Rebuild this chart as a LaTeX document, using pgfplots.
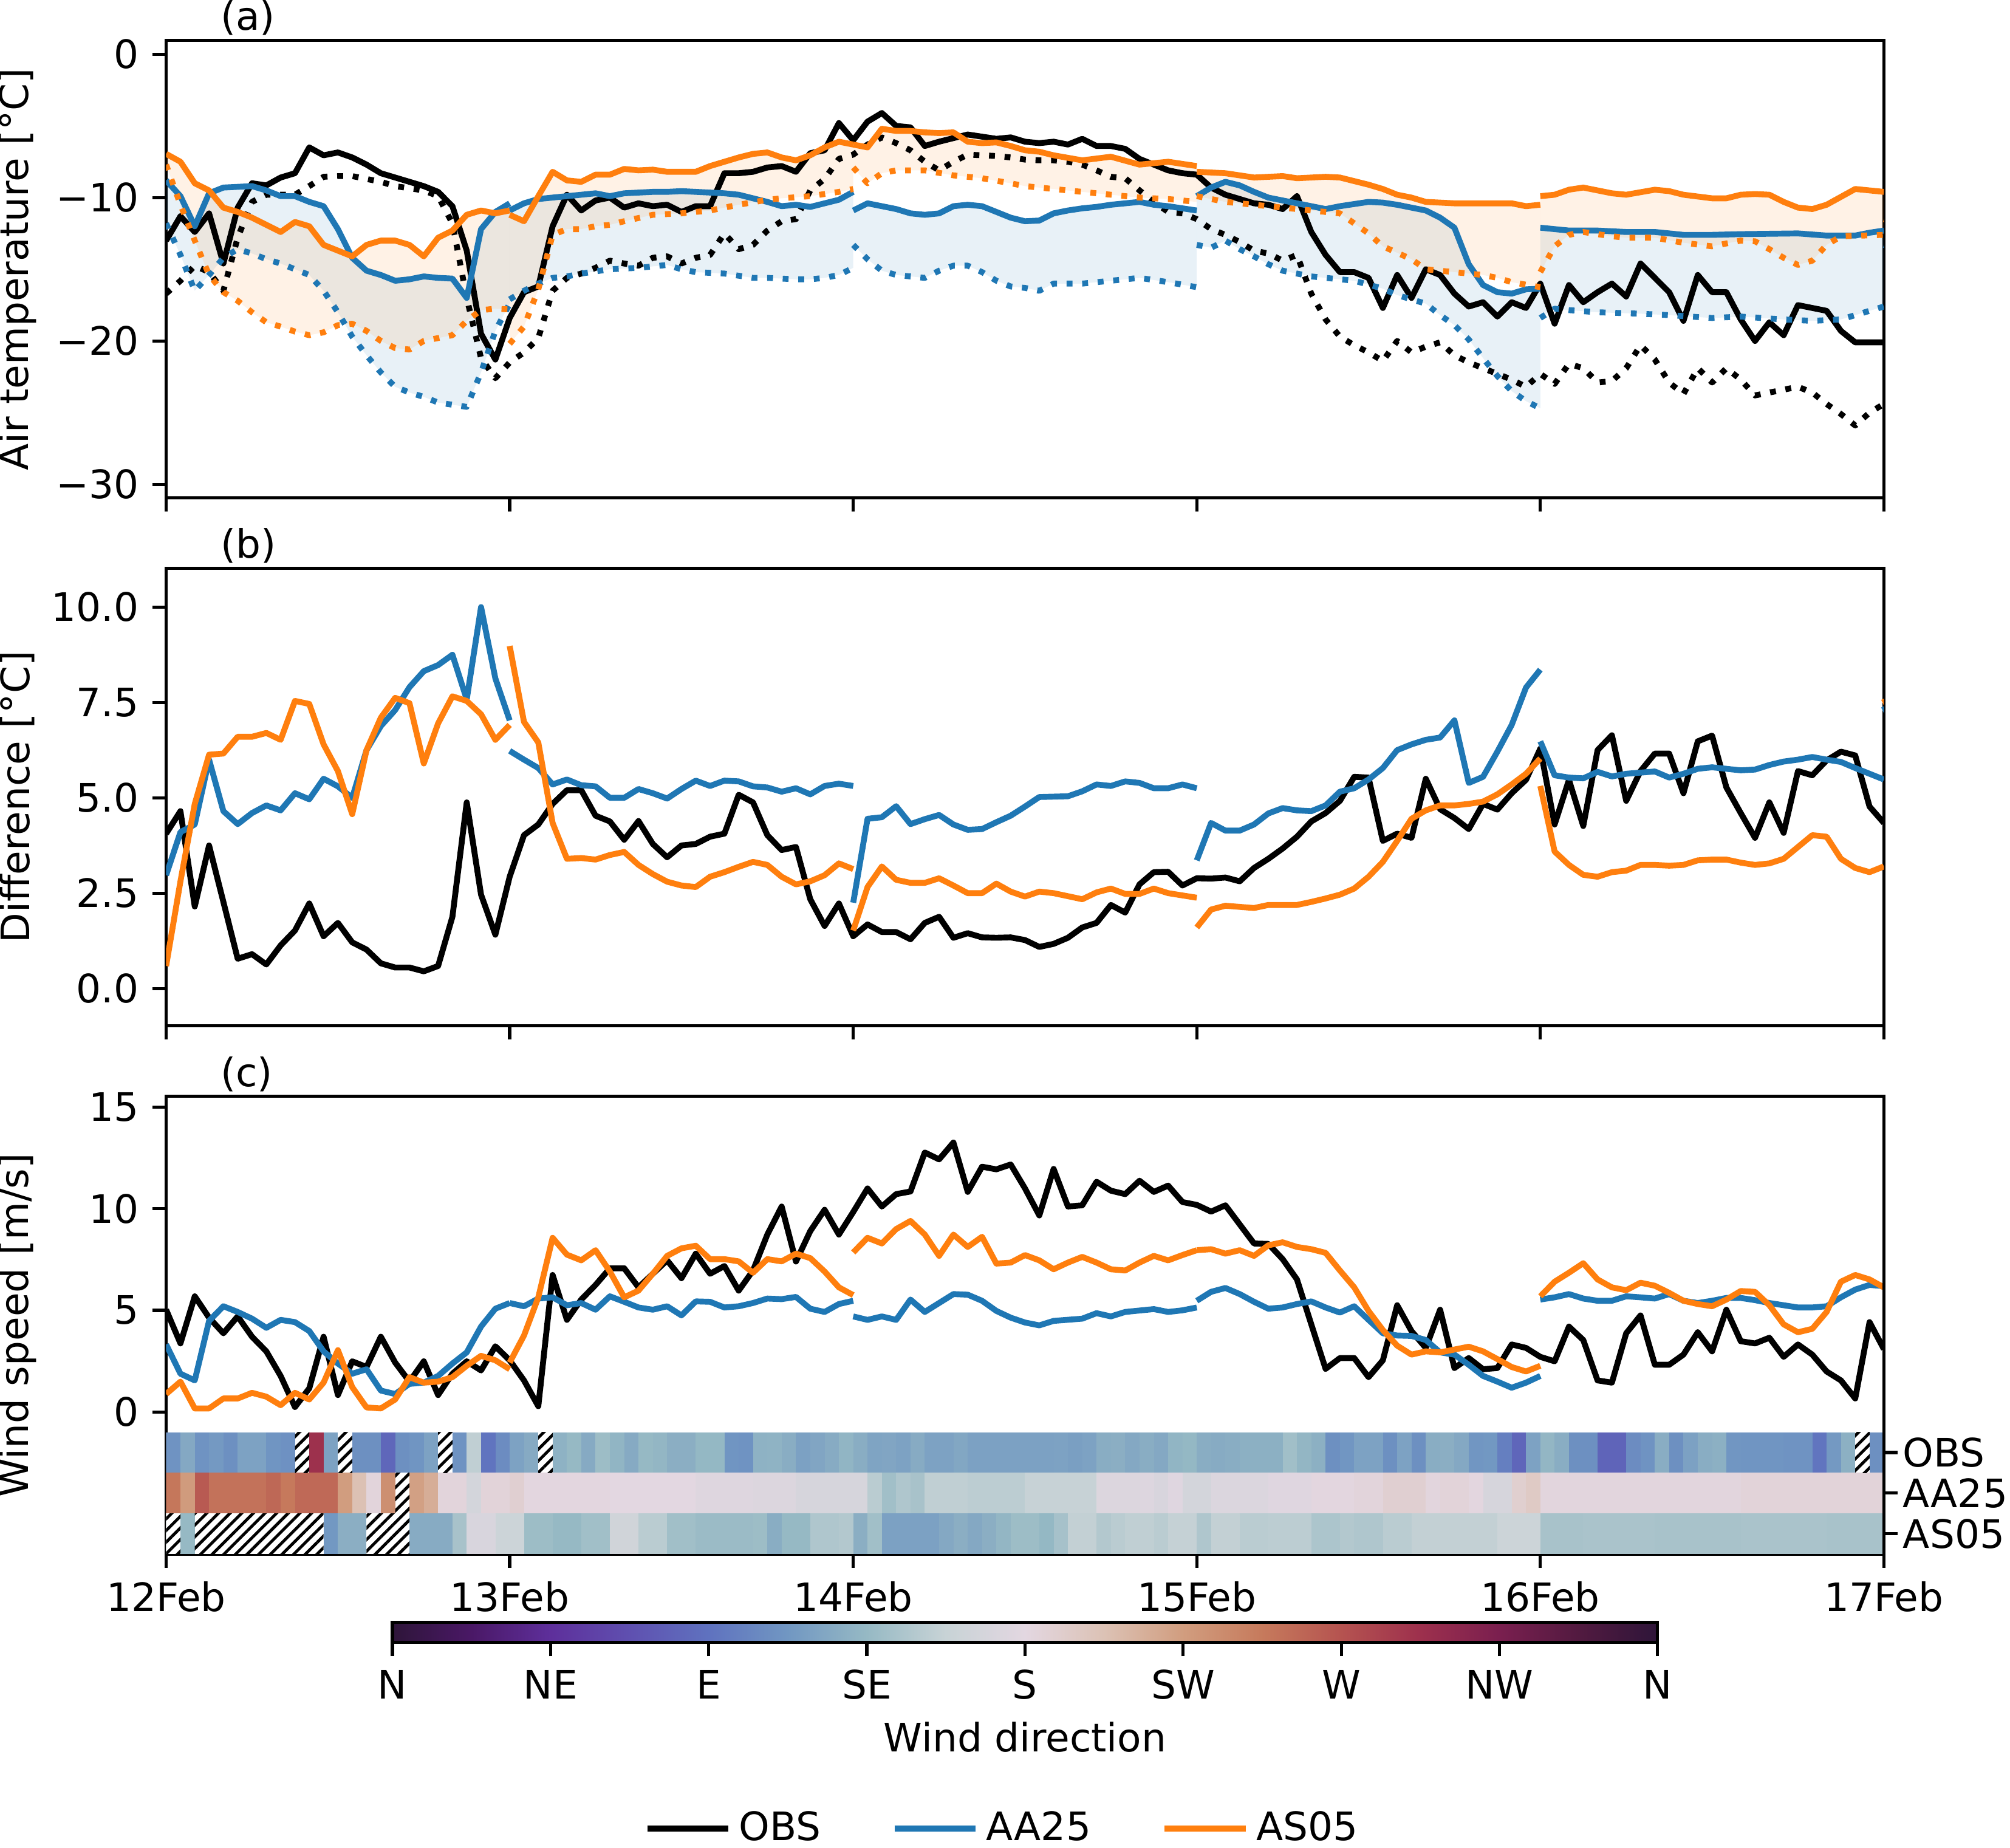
\documentclass[border=0pt]{standalone}
\usepackage{fontspec}
\setmainfont{DejaVu Sans}
\usepackage{pgfplots}
\pgfplotsset{compat=1.18}
\usepgfplotslibrary{fillbetween}
\usetikzlibrary{patterns.meta}
\definecolor{tabblue}{RGB}{31,119,180}
\definecolor{taborange}{RGB}{255,127,14}
\pgfplotsset{
  panel/.style={scale only axis, width=438.4pt, height=116.8pt, xmin=0, xmax=120,
    xtick={0,24,48,72,96,120}, tick align=outside, xtick pos=left, ytick pos=left,
    major tick length=3.5pt, axis line style={line width=0.8pt},
    every tick/.style={black, line width=0.8pt},
    ylabel style={at={(axis description cs:-0.0866,0.5)}, anchor=center},
    every axis title shift=0pt,
    title style={at={(axis description cs:0.0313,1)}, anchor=base west, yshift=2.6pt, inner sep=0pt},
  },
  obs/.style={black, line width=1.5pt, line join=round},
  aa/.style={tabblue, line width=1.5pt, line join=round},
  as/.style={taborange, line width=1.5pt, line join=round},
  dots/.style={dash pattern=on 1.5pt off 2.475pt},
  fa/.style={fill=tabblue, fill opacity=0.1, draw=none},
  fo/.style={fill=taborange, fill opacity=0.1, draw=none},
  hatch/.style={draw=none, fill=white, forget plot, postaction={pattern={Lines[angle=45,distance=2.1pt,line width=0.75pt]}}},
  strip/.style={mesh, point meta=explicit, line width=10.37pt, line cap=butt, forget plot},
  colormap={twil}{rgb255=(46,21,57) rgb255=(74,24,102) rgb255=(94,47,155) rgb255=(95,80,176) rgb255=(95,114,191) rgb255=(113,151,194) rgb255=(150,185,196) rgb255=(200,211,214) rgb255=(227,215,225) rgb255=(220,194,181) rgb255=(209,157,127) rgb255=(198,122,92) rgb255=(181,83,80) rgb255=(157,48,77) rgb255=(122,31,79) rgb255=(82,26,64) rgb255=(46,21,57)},
}
\begin{document}
\begin{tikzpicture}
% ---------------- (a) ----------------
\begin{axis}[panel, at={(42.4pt,344.5pt)}, anchor=south west, set layers,
  ymin=-30.96, ymax=0.97, ytick={-30,-20,-10,0}, yticklabels={−30,−20,−10,0},
  xticklabels=\empty, ylabel={Air temperature [°C]}, title={(a)}]
\addplot[obs] coordinates {(0,-13.0)(1,-11.3)(2,-12.4)(3,-11.1)(4,-14.6)(5,-10.7)(6,-9.0)(7,-9.15)(8,-8.6)(9,-8.3)(10,-6.5)(11,-7.05)(12,-6.85)(13,-7.2)(14,-7.7)(15,-8.3)(16,-8.6)(17,-8.9)(18,-9.2)(19,-9.6)(20,-10.6)(21,-13.7)(22,-19.5)(23,-21.3)(24,-18.4)(25,-16.6)(26,-16.2)(27,-12.0)(28,-9.8)(29,-10.9)(30,-10.2)(31,-10.0)(32,-10.7)(33,-10.4)(34,-10.6)(35,-10.5)(36,-11.0)(37,-10.6)(38,-10.6)(39,-8.3)(40,-8.3)(41,-8.2)(42,-7.9)(43,-7.8)(44,-8.2)(45,-6.9)(46,-6.7)(47,-4.8)(48,-6.0)(49,-4.7)(50,-4.1)(51,-5.0)(52,-5.1)(53,-6.4)(54,-6.1)(55,-5.85)(56,-5.6)(57,-5.75)(58,-5.9)(59,-5.8)(60,-6.1)(61,-6.2)(62,-6.1)(63,-6.3)(64,-5.9)(65,-6.4)(66,-6.4)(67,-6.6)(68,-7.3)(69,-7.7)(70,-8.1)(71,-8.3)(72,-8.4)(73,-9.3)(74,-9.8)(75,-10.1)(76,-10.4)(77,-10.5)(78,-10.8)(79,-9.9)(80,-12.4)(81,-14.0)(82,-15.2)(83,-15.2)(84,-15.6)(85,-17.7)(86,-15.4)(87,-17.0)(88,-15.0)(89,-15.4)(90,-16.7)(91,-17.6)(92,-17.3)(93,-18.3)(94,-17.3)(95,-17.7)(96,-16.0)(97,-18.8)(98,-16.1)(99,-17.3)(100,-16.6)(101,-16.0)(102,-16.9)(103,-14.6)(104,-15.6)(105,-16.6)(106,-18.6)(107,-15.4)(108,-16.6)(109,-16.6)(110,-18.5)(111,-20.0)(112,-18.7)(113,-19.6)(114,-17.5)(115,-17.7)(116,-17.9)(117,-19.3)(118,-20.1)(119,-20.1)(120,-20.1)};
\addplot[obs,dots] coordinates {(0,-16.7)(1,-15.8)(2,-14.75)(3,-15.2)(4,-16.5)(5,-12.8)(6,-10.3)(7,-9.8)(8,-9.8)(9,-9.8)(10,-9.2)(11,-8.55)(12,-8.5)(13,-8.5)(14,-8.7)(15,-8.9)(16,-9.2)(17,-9.35)(18,-9.5)(19,-9.9)(20,-11.8)(21,-17.0)(22,-21.2)(23,-22.6)(24,-21.5)(25,-20.8)(26,-19.8)(27,-16.5)(28,-15.6)(29,-15.3)(30,-14.9)(31,-14.4)(32,-14.6)(33,-14.75)(34,-14.2)(35,-14.1)(36,-14.6)(37,-14.2)(38,-14.0)(39,-12.5)(40,-13.6)(41,-13.3)(42,-12.3)(43,-11.65)(44,-11.5)(45,-9.5)(46,-8.7)(47,-7.3)(48,-7.0)(49,-6.3)(50,-5.8)(51,-6.2)(52,-6.7)(53,-7.5)(54,-8.1)(55,-7.5)(56,-7.0)(57,-7.05)(58,-7.1)(59,-7.2)(60,-7.35)(61,-7.4)(62,-7.4)(63,-7.5)(64,-7.7)(65,-8.1)(66,-8.55)(67,-8.65)(68,-9.5)(69,-10.3)(70,-11.0)(71,-11.1)(72,-11.5)(73,-12.2)(74,-12.6)(75,-13.1)(76,-13.7)(77,-13.9)(78,-14.4)(79,-14.0)(80,-16.7)(81,-18.5)(82,-19.7)(83,-20.3)(84,-20.8)(85,-21.4)(86,-20.0)(87,-20.8)(88,-20.4)(89,-20.1)(90,-21.0)(91,-21.5)(92,-21.9)(93,-22.3)(94,-22.7)(95,-23.2)(96,-22.3)(97,-23.0)(98,-21.6)(99,-21.9)(100,-22.9)(101,-22.8)(102,-21.9)(103,-20.3)(104,-21.3)(105,-22.9)(106,-23.7)(107,-21.9)(108,-22.9)(109,-21.9)(110,-22.7)(111,-23.8)(112,-23.6)(113,-23.4)(114,-23.2)(115,-23.6)(116,-24.4)(117,-25.1)(118,-25.9)(119,-25.0)(120,-24.4)};
% AA25 segments
\addplot[aa, name path=a1] coordinates {(0,-8.8)(1,-9.9)(2,-12.0)(3,-9.7)(4,-9.3)(5,-9.25)(6,-9.2)(7,-9.5)(8,-9.9)(9,-9.9)(10,-10.3)(11,-10.6)(12,-12.2)(13,-14.2)(14,-15.1)(15,-15.4)(16,-15.8)(17,-15.7)(18,-15.5)(19,-15.6)(20,-15.65)(21,-17.0)(22,-12.2)(23,-11.0)(24,-10.4)};
\addplot[aa, dots, name path=a1d] coordinates {(0,-11.8)(1,-14.0)(2,-16.5)(3,-15.4)(4,-14.2)(5,-13.6)(6,-13.9)(7,-14.3)(8,-14.6)(9,-15.0)(10,-15.4)(11,-16.5)(12,-18.0)(13,-19.7)(14,-21.0)(15,-22.2)(16,-23.2)(17,-23.6)(18,-23.9)(19,-24.3)(20,-24.45)(21,-24.6)(22,-22.2)(23,-19.3)(24,-17.4)};
\addplot[fa] fill between[of=a1 and a1d];
\addplot[aa, name path=a2] coordinates {(24,-10.9)(25,-10.4)(26,-10.1)(27,-10.0)(28,-9.9)(29,-9.8)(30,-9.7)(31,-9.9)(32,-9.7)(33,-9.65)(34,-9.6)(35,-9.6)(36,-9.55)(37,-9.6)(38,-9.65)(39,-9.7)(40,-9.8)(41,-10.05)(42,-10.3)(43,-10.6)(44,-10.5)(45,-10.65)(46,-10.4)(47,-10.15)(48,-9.6)};
\addplot[aa, dots, name path=a2d] coordinates {(24,-17.1)(25,-16.5)(26,-16.0)(27,-15.6)(28,-15.5)(29,-15.3)(30,-15.15)(31,-15.0)(32,-14.95)(33,-14.9)(34,-14.8)(35,-14.7)(36,-15.0)(37,-15.2)(38,-15.25)(39,-15.3)(40,-15.45)(41,-15.6)(42,-15.6)(43,-15.65)(44,-15.7)(45,-15.7)(46,-15.6)(47,-15.4)(48,-14.9)};
\addplot[fa] fill between[of=a2 and a2d];
\addplot[aa, name path=a3] coordinates {(48,-10.9)(49,-10.4)(50,-10.6)(51,-10.8)(52,-11.1)(53,-11.2)(54,-11.1)(55,-10.6)(56,-10.5)(57,-10.6)(58,-11.0)(59,-11.4)(60,-11.65)(61,-11.6)(62,-11.1)(63,-10.9)(64,-10.75)(65,-10.65)(66,-10.5)(67,-10.4)(68,-10.3)(69,-10.5)(70,-10.6)(71,-10.75)(72,-10.9)};
\addplot[aa, dots, name path=a3d] coordinates {(48,-13.3)(49,-14.3)(50,-15.1)(51,-15.4)(52,-15.5)(53,-15.6)(54,-15.1)(55,-14.75)(56,-14.75)(57,-15.2)(58,-15.8)(59,-16.2)(60,-16.3)(61,-16.5)(62,-16.0)(64,-16.0)(66,-15.8)(68,-15.6)(70,-15.9)(72,-16.25)};
\addplot[fa] fill between[of=a3 and a3d];
\addplot[aa, name path=a4] coordinates {(72,-9.9)(73,-9.3)(74,-8.9)(75,-9.15)(76,-9.6)(77,-10.0)(78,-10.2)(79,-10.4)(80,-10.6)(81,-10.8)(82,-10.6)(83,-10.45)(84,-10.3)(85,-10.35)(86,-10.5)(87,-10.7)(88,-10.9)(89,-11.4)(90,-12.1)(91,-14.65)(92,-16.1)(93,-16.6)(94,-16.7)(95,-16.4)(96,-16.35)};
\addplot[aa, dots, name path=a4d] coordinates {(72,-13.3)(73,-13.5)(74,-13.0)(75,-13.6)(76,-14.1)(77,-14.65)(78,-15.1)(80,-15.5)(82,-15.7)(83,-15.8)(85,-16.35)(86,-16.8)(88,-17.4)(89,-18.2)(90,-18.9)(91,-19.9)(92,-21.2)(93,-22.45)(94,-23.5)(95,-24.2)(96,-24.7)};
\addplot[fa] fill between[of=a4 and a4d];
\addplot[aa, name path=a5] coordinates {(96,-12.1)(98,-12.3)(100,-12.3)(102,-12.4)(104,-12.4)(106,-12.6)(108,-12.6)(110,-12.55)(114,-12.5)(116,-12.65)(118,-12.65)(119,-12.45)(120,-12.3)};
\addplot[aa, dots, name path=a5d] coordinates {(96,-18.4)(97,-17.75)(98,-17.85)(100,-18.0)(103,-18.1)(105,-18.2)(108,-18.4)(110,-18.3)(113,-18.5)(115,-18.6)(117,-18.5)(118,-18.2)(120,-17.6)};
\addplot[fa] fill between[of=a5 and a5d];
\addplot[aa] coordinates {(120,-13.3)(121,-13.6)};
% AS05 segments
\addplot[as, name path=o1] coordinates {(0,-6.95)(1,-7.5)(2,-9.0)(3,-9.5)(4,-10.7)(5,-11.0)(6,-11.4)(7,-11.9)(8,-12.4)(9,-11.7)(10,-12.0)(11,-13.3)(12,-13.7)(13,-14.1)(14,-13.3)(15,-13.0)(16,-13.0)(17,-13.3)(18,-14.1)(19,-12.8)(20,-12.3)(21,-11.2)(22,-10.9)(23,-11.1)(24,-10.9)};
\addplot[as, dots, name path=o1d] coordinates {(0,-7.7)(1,-10.5)(2,-13.0)(3,-15.4)(4,-16.6)(5,-17.2)(6,-18.0)(7,-18.7)(8,-19.0)(9,-19.35)(10,-19.6)(11,-19.4)(12,-18.9)(13,-18.8)(14,-19.3)(15,-20.0)(16,-20.5)(17,-20.6)(18,-20.0)(19,-19.8)(20,-19.6)(21,-18.6)(22,-17.85)(23,-17.75)(24,-17.8)};
\addplot[fo] fill between[of=o1 and o1d];
\addplot[as, name path=o2] coordinates {(24,-11.2)(25,-11.65)(26,-9.9)(27,-8.2)(28,-8.8)(29,-8.9)(30,-8.4)(31,-8.4)(32,-8.0)(33,-8.1)(34,-8.05)(35,-8.2)(36,-8.2)(37,-8.2)(38,-7.8)(39,-7.5)(40,-7.2)(41,-6.95)(42,-6.85)(43,-7.2)(44,-7.4)(45,-7.05)(46,-6.5)(47,-6.1)(48,-6.3)};
\addplot[as, dots, name path=o2d] coordinates {(24,-20.2)(25,-19.0)(26,-16.4)(27,-12.6)(28,-12.2)(29,-12.2)(30,-12.0)(31,-11.9)(32,-11.65)(34,-11.2)(36,-11.1)(38,-10.9)(40,-10.5)(42,-10.15)(43,-10.05)(45,-9.9)(47,-9.6)(48,-9.4)};
\addplot[fo] fill between[of=o2 and o2d];
\addplot[as, name path=o3] coordinates {(48,-6.3)(49,-6.5)(50,-5.2)(51,-5.35)(52,-5.35)(53,-5.45)(54,-5.5)(55,-5.45)(56,-6.1)(57,-6.2)(58,-6.15)(59,-6.4)(60,-6.7)(61,-6.8)(62,-7.05)(64,-7.4)(66,-7.15)(68,-7.7)(70,-7.5)(72,-7.8)};
\addplot[as, dots, name path=o3d] coordinates {(48,-7.9)(49,-9.0)(50,-8.3)(51,-8.1)(53,-8.1)(55,-8.45)(57,-8.65)(59,-9.0)(60,-9.2)(62,-9.4)(64,-9.6)(66,-9.8)(68,-10.0)(70,-10.1)(72,-10.3)};
\addplot[fo] fill between[of=o3 and o3d];
\addplot[as, name path=o4] coordinates {(72,-8.2)(74,-8.3)(76,-8.6)(78,-8.5)(79,-8.65)(81,-8.55)(82,-8.6)(84,-9.1)(85,-9.4)(86,-9.8)(87,-10.0)(88,-10.3)(90,-10.4)(92,-10.4)(94,-10.4)(95,-10.6)(96,-10.5)};
\addplot[as, dots, name path=o4d] coordinates {(72,-9.9)(74,-10.3)(76,-10.5)(78,-10.7)(80,-10.9)(82,-11.1)(83,-11.8)(84,-12.5)(85,-13.4)(87,-14.3)(88,-15.0)(90,-15.2)(92,-15.4)(93,-15.6)(94,-15.9)(96,-16.25)};
\addplot[fo] fill between[of=o4 and o4d];
\addplot[as, name path=o5] coordinates {(96,-9.9)(97,-9.8)(98,-9.45)(99,-9.3)(101,-9.7)(102,-9.8)(104,-9.45)(105,-9.55)(106,-9.8)(108,-10.05)(109,-10.05)(110,-9.8)(111,-9.75)(112,-9.8)(113,-10.3)(114,-10.7)(115,-10.8)(116,-10.5)(117,-9.95)(118,-9.4)(119,-9.5)(120,-9.6)};
\addplot[as, dots, name path=o5d] coordinates {(96,-15.2)(97,-13.4)(98,-12.6)(99,-12.4)(101,-12.7)(102,-12.8)(104,-12.8)(106,-13.15)(108,-13.4)(110,-13.0)(111,-13.05)(112,-13.6)(113,-14.2)(114,-14.7)(115,-14.4)(116,-13.3)(117,-12.7)(120,-12.6)};
\addplot[fo] fill between[of=o5 and o5d];
\addplot[as] coordinates {(120,-11.5)(121,-11.8)};
\end{axis}
% ---------------- (b) ----------------
\begin{axis}[panel, at={(42.4pt,209.8pt)}, anchor=south west,
  ymin=-0.98, ymax=11.02, ytick={0,2.5,5,7.5,10}, yticklabels={0.0,2.5,5.0,7.5,10.0},
  xticklabels=\empty, ylabel={Difference [°C]}, title={(b)}]
\addplot[obs] coordinates {(0,4.06)(1,4.65)(2,2.15)(3,3.75)(4,2.27)(5,0.78)(6,0.9)(7,0.63)(8,1.13)(9,1.52)(10,2.23)(11,1.37)(12,1.72)(13,1.21)(14,1.02)(15,0.66)(16,0.55)(17,0.55)(18,0.45)(19,0.59)(20,1.88)(21,4.88)(22,2.46)(23,1.41)(24,2.93)(25,4.02)(26,4.3)(27,4.84)(28,5.2)(29,5.2)(30,4.53)(31,4.38)(32,3.9)(33,4.39)(34,3.79)(35,3.44)(36,3.75)(37,3.79)(38,3.98)(39,4.06)(40,5.08)(41,4.88)(42,4.02)(43,3.63)(44,3.71)(45,2.34)(46,1.64)(47,2.23)(48,1.37)(49,1.68)(50,1.48)(51,1.48)(52,1.29)(53,1.72)(54,1.88)(55,1.33)(56,1.45)(57,1.34)(58,1.33)(59,1.34)(60,1.27)(61,1.09)(62,1.17)(63,1.33)(64,1.6)(65,1.72)(66,2.19)(67,1.99)(68,2.73)(69,3.05)(70,3.06)(71,2.7)(72,2.89)(73,2.88)(74,2.91)(75,2.81)(76,3.16)(77,3.4)(78,3.67)(79,3.98)(80,4.38)(81,4.6)(82,4.92)(83,5.55)(84,5.53)(85,3.87)(86,4.06)(87,3.95)(88,5.5)(89,4.7)(90,4.47)(91,4.18)(92,4.84)(93,4.69)(94,5.12)(95,5.47)(96,6.29)(97,4.3)(98,5.47)(99,4.26)(100,6.25)(101,6.64)(102,4.92)(103,5.7)(104,6.16)(105,6.16)(106,5.12)(107,6.48)(108,6.63)(109,5.27)(110,4.6)(111,3.95)(112,4.88)(113,4.08)(114,5.7)(115,5.59)(116,5.98)(117,6.21)(118,6.11)(119,4.77)(120,4.34)};
\addplot[aa] coordinates {(0,2.97)(1,4.1)(2,4.3)(3,6.0)(4,4.65)(5,4.31)(6,4.6)(7,4.8)(8,4.67)(9,5.12)(10,4.96)(11,5.5)(12,5.3)(13,5.0)(14,6.25)(15,6.88)(16,7.3)(17,7.9)(18,8.32)(19,8.48)(20,8.75)(21,7.58)(22,10.0)(23,8.13)(24,7.03)};
\addplot[aa] coordinates {(24,6.23)(25,6.0)(26,5.78)(27,5.35)(28,5.48)(29,5.33)(30,5.3)(31,5.0)(32,5.0)(33,5.23)(34,5.12)(35,4.98)(36,5.23)(37,5.45)(38,5.31)(39,5.45)(40,5.43)(41,5.3)(42,5.27)(43,5.16)(44,5.25)(45,5.09)(46,5.31)(47,5.37)(48,5.31)};
\addplot[aa] coordinates {(48,2.25)(49,4.45)(50,4.49)(51,4.78)(52,4.31)(53,4.44)(54,4.55)(55,4.3)(56,4.16)(57,4.18)(58,4.36)(59,4.53)(60,4.77)(61,5.02)(63,5.04)(64,5.17)(65,5.35)(66,5.31)(67,5.43)(68,5.39)(69,5.25)(70,5.25)(71,5.35)(72,5.25)};
\addplot[aa] coordinates {(72,3.36)(73,4.34)(74,4.14)(75,4.14)(76,4.3)(77,4.59)(78,4.73)(79,4.67)(80,4.65)(81,4.8)(82,5.16)(83,5.25)(84,5.48)(85,5.78)(86,6.25)(87,6.4)(88,6.52)(89,6.58)(90,7.03)(91,5.39)(92,5.55)(93,6.21)(94,6.91)(95,7.89)(96,8.36)};
\addplot[aa] coordinates {(96,6.48)(97,5.59)(98,5.53)(99,5.51)(100,5.68)(101,5.56)(102,5.63)(104,5.69)(105,5.53)(106,5.63)(107,5.76)(108,5.8)(109,5.76)(110,5.72)(111,5.74)(112,5.86)(113,5.95)(114,6.0)(115,6.07)(116,6.0)(117,5.94)(118,5.78)(119,5.63)(120,5.48)};
\addplot[aa] coordinates {(120,7.4)(121,6.6)};
\addplot[as] coordinates {(0,0.59)(1,2.81)(2,4.84)(3,6.13)(4,6.16)(5,6.6)(6,6.6)(7,6.7)(8,6.52)(9,7.54)(10,7.46)(11,6.4)(12,5.7)(13,4.57)(14,6.25)(15,7.1)(16,7.62)(17,7.48)(18,5.9)(19,6.95)(20,7.66)(21,7.54)(22,7.19)(23,6.52)(24,6.91)};
\addplot[as] coordinates {(24,8.98)(25,6.99)(26,6.45)(27,4.34)(28,3.4)(29,3.42)(30,3.38)(31,3.5)(32,3.58)(33,3.24)(34,3.0)(35,2.8)(36,2.7)(37,2.66)(38,2.93)(39,3.05)(40,3.19)(41,3.32)(42,3.24)(43,2.93)(44,2.73)(45,2.81)(46,2.97)(47,3.28)(48,3.13)};
\addplot[as] coordinates {(48,1.52)(49,2.66)(50,3.2)(51,2.85)(52,2.77)(53,2.77)(54,2.89)(55,2.7)(56,2.5)(57,2.5)(58,2.75)(59,2.54)(60,2.41)(61,2.54)(62,2.5)(64,2.34)(65,2.52)(66,2.62)(67,2.48)(68,2.48)(69,2.62)(70,2.5)(72,2.38)};
\addplot[as] coordinates {(72,1.6)(73,2.07)(74,2.17)(76,2.11)(77,2.19)(79,2.19)(80,2.27)(81,2.36)(82,2.46)(83,2.62)(84,2.93)(85,3.32)(86,3.87)(87,4.45)(88,4.67)(89,4.8)(90,4.8)(91,4.84)(92,4.9)(93,5.09)(94,5.35)(95,5.63)(96,6.03)};
\addplot[as] coordinates {(96,5.31)(97,3.59)(98,3.24)(99,2.98)(100,2.93)(101,3.05)(102,3.09)(103,3.24)(104,3.24)(105,3.22)(106,3.24)(107,3.36)(108,3.38)(109,3.38)(110,3.3)(111,3.24)(112,3.28)(113,3.4)(114,3.71)(115,4.02)(116,3.98)(117,3.4)(118,3.16)(119,3.05)(120,3.2)};
\addplot[as] coordinates {(120,7.6)(121,6.8)};
\end{axis}
% ---------------- (c) ----------------
\begin{axis}[panel, at={(42.4pt,75.0pt)}, anchor=south west,
  ymin=-7, ymax=15.53, ytick={0,5,10,15}, yticklabels={0,5,10,15},
  xticklabels={12Feb,13Feb,14Feb,15Feb,16Feb,17Feb},
  ylabel={Wind speed [m/s]}, title={(c)},
  colormap name=twil, point meta min=0, point meta max=360,
  colorbar horizontal,
  colorbar style={at={(parent axis.south)}, anchor=north, xshift=0pt, yshift=-8.85pt,
    scale only axis, width=322.9pt, height=5.17pt,
    xtick={0,45,90,135,180,225,270,315,360}, xticklabels={N,NE,E,SE,S,SW,W,NW,N},
    ytick=\empty, xtick pos=left, xticklabel pos=left, tick align=outside, major tick length=3.5pt,
    axis line style={line width=0.8pt}, every tick/.style={black, line width=0.8pt},
    xlabel={Wind direction}, xlabel style={at={(axis description cs:0.5,0)}, anchor=center, yshift=-24.2pt}},
  legend style={at={(0.4884,-0.600)}, anchor=center, draw=none, fill=none, legend columns=3,
    /tikz/every even column/.append style={column sep=16pt}},
  legend image code/.code={\draw[#1] (0pt,0pt) -- (20.7pt,0pt);}]
\addlegendimage{obs}
\addlegendimage{aa}
\addlegendimage{as}
% direction strips
\addplot[strip] coordinates {(0,-2)[110](1,-2)[110](1,-2)[124](2,-2)[124](2,-2)[110](3,-2)[110](3,-2)[114](4,-2)[114](4,-2)[108](5,-2)[108](5,-2)[120](7,-2)[120](7,-2)[111](8,-2)[111](8,-2)[109](10,-2)[109](10,-2)[292](11,-2)[292](11,-2)[120](13,-2)[120](13,-2)[108](15,-2)[108](15,-2)[83](16,-2)[83](16,-2)[108](17,-2)[108](17,-2)[111](18,-2)[111](18,-2)[120](20,-2)[120](20,-2)[110](21,-2)[110](21,-2)[154](22,-2)[154](22,-2)[91](23,-2)[91](23,-2)[106](24,-2)[106](24,-2)[120](25,-2)[120](25,-2)[125](27,-2)[125](27,-2)[130](28,-2)[130](28,-2)[135](29,-2)[135](29,-2)[125](30,-2)[125](30,-2)[138](31,-2)[138](31,-2)[132](32,-2)[132](32,-2)[125](33,-2)[125](33,-2)[135](34,-2)[135](34,-2)[133](35,-2)[133](35,-2)[128](37,-2)[128](37,-2)[134](39,-2)[134](39,-2)[111](40,-2)[111](40,-2)[110](41,-2)[110](41,-2)[130](42,-2)[130](42,-2)[131](43,-2)[131](43,-2)[127](44,-2)[127](44,-2)[119](45,-2)[119](45,-2)[122](46,-2)[122](46,-2)[126](47,-2)[126](47,-2)[132](48,-2)[132](48,-2)[127](49,-2)[127](49,-2)[121](50,-2)[121](50,-2)[122](51,-2)[122](51,-2)[120](52,-2)[120](52,-2)[126](53,-2)[126](53,-2)[120](55,-2)[120](55,-2)[123](56,-2)[123](56,-2)[119](62,-2)[119](62,-2)[120](63,-2)[120](63,-2)[118](64,-2)[118](64,-2)[120](65,-2)[120](65,-2)[127](66,-2)[127](66,-2)[128](67,-2)[128](67,-2)[124](68,-2)[124](68,-2)[127](69,-2)[127](69,-2)[124](70,-2)[124](70,-2)[132](71,-2)[132](71,-2)[134](72,-2)[134](72,-2)[127](73,-2)[127](73,-2)[126](74,-2)[126](74,-2)[127](75,-2)[127](75,-2)[129](78,-2)[129](78,-2)[140](79,-2)[140](79,-2)[133](80,-2)[133](80,-2)[129](81,-2)[129](81,-2)[108](82,-2)[108](82,-2)[112](83,-2)[112](83,-2)[120](85,-2)[120](85,-2)[108](86,-2)[108](86,-2)[120](87,-2)[120](87,-2)[108](88,-2)[108](88,-2)[127](89,-2)[127](89,-2)[128](90,-2)[128](90,-2)[124](91,-2)[124](91,-2)[112](92,-2)[112](92,-2)[113](93,-2)[113](93,-2)[98](94,-2)[98](94,-2)[82](95,-2)[82](95,-2)[120](96,-2)[120](96,-2)[133](97,-2)[133](97,-2)[127](98,-2)[127](98,-2)[108](100,-2)[108](100,-2)[81](102,-2)[81](102,-2)[106](103,-2)[106](103,-2)[110](104,-2)[110](104,-2)[127](105,-2)[127](105,-2)[108](106,-2)[108](106,-2)[119](107,-2)[119](107,-2)[127](108,-2)[127](108,-2)[129](109,-2)[129](109,-2)[112](110,-2)[112](110,-2)[111](113,-2)[111](113,-2)[110](115,-2)[110](115,-2)[92](116,-2)[92](116,-2)[114](117,-2)[114](117,-2)[129](119,-2)[129](119,-2)[108](120,-2)[108]};
\addplot[strip] coordinates {(0,-4)[249](1,-4)[249](1,-4)[226](2,-4)[226](2,-4)[266](3,-4)[266](3,-4)[252](7,-4)[252](7,-4)[258](8,-4)[258](8,-4)[248](9,-4)[248](9,-4)[257](12,-4)[257](12,-4)[225](13,-4)[225](13,-4)[203](14,-4)[203](14,-4)[183](15,-4)[183](15,-4)[234](17,-4)[234](17,-4)[223](18,-4)[223](18,-4)[215](19,-4)[215](19,-4)[183](21,-4)[183](21,-4)[167](22,-4)[167](22,-4)[184](24,-4)[184](24,-4)[188](25,-4)[188](25,-4)[181](31,-4)[181](31,-4)[180](37,-4)[180](37,-4)[176](41,-4)[176](41,-4)[174](44,-4)[174](44,-4)[169](49,-4)[169](49,-4)[151](50,-4)[151](50,-4)[140](51,-4)[140](51,-4)[146](52,-4)[146](52,-4)[143](53,-4)[143](53,-4)[154](56,-4)[154](56,-4)[152](60,-4)[152](60,-4)[157](65,-4)[157](65,-4)[174](68,-4)[174](68,-4)[175](69,-4)[175](69,-4)[171](70,-4)[171](70,-4)[177](71,-4)[177](71,-4)[167](73,-4)[167](73,-4)[173](77,-4)[173](77,-4)[177](80,-4)[177](80,-4)[181](83,-4)[181](83,-4)[183](85,-4)[183](85,-4)[188](88,-4)[188](88,-4)[182](89,-4)[182](89,-4)[184](91,-4)[184](91,-4)[181](92,-4)[181](92,-4)[169](94,-4)[169](94,-4)[189](95,-4)[189](95,-4)[194](96,-4)[194](96,-4)[182](110,-4)[182](110,-4)[184](120,-4)[184]};
\addplot[strip] coordinates {(0,-6)[135](11,-6)[135](11,-6)[113](12,-6)[113](12,-6)[128](14,-6)[128](14,-6)[126](20,-6)[126](20,-6)[143](21,-6)[143](21,-6)[171](23,-6)[171](23,-6)[161](25,-6)[161](25,-6)[138](27,-6)[138](27,-6)[135](29,-6)[135](29,-6)[140](31,-6)[140](31,-6)[164](33,-6)[164](33,-6)[151](35,-6)[151](35,-6)[140](37,-6)[140](37,-6)[137](41,-6)[137](41,-6)[138](42,-6)[138](42,-6)[127](43,-6)[127](43,-6)[135](45,-6)[135](45,-6)[146](47,-6)[146](47,-6)[148](48,-6)[148](48,-6)[128](49,-6)[128](49,-6)[140](50,-6)[140](50,-6)[119](54,-6)[119](54,-6)[124](55,-6)[124](55,-6)[128](56,-6)[128](56,-6)[124](57,-6)[124](57,-6)[128](58,-6)[128](58,-6)[133](59,-6)[133](59,-6)[138](61,-6)[138](61,-6)[134](62,-6)[134](62,-6)[142](63,-6)[142](63,-6)[155](65,-6)[155](65,-6)[148](66,-6)[148](66,-6)[151](67,-6)[151](67,-6)[154](69,-6)[154](69,-6)[151](70,-6)[151](70,-6)[156](72,-6)[156](72,-6)[146](73,-6)[146](73,-6)[155](75,-6)[155](75,-6)[151](77,-6)[151](77,-6)[152](80,-6)[152](80,-6)[145](82,-6)[145](82,-6)[148](83,-6)[148](83,-6)[146](85,-6)[146](85,-6)[151](87,-6)[151](87,-6)[155](93,-6)[155](93,-6)[161](96,-6)[161](96,-6)[143](99,-6)[143](99,-6)[144](104,-6)[144](104,-6)[143](110,-6)[143](110,-6)[144](116,-6)[144](116,-6)[143](120,-6)[143]};
% missing (hatched) cells
\addplot[hatch] coordinates {(9,-1)(10,-1)(10,-3)(9,-3)};
\addplot[hatch] coordinates {(12,-1)(13,-1)(13,-3)(12,-3)};
\addplot[hatch] coordinates {(19,-1)(20,-1)(20,-3)(19,-3)};
\addplot[hatch] coordinates {(26,-1)(27,-1)(27,-3)(26,-3)};
\addplot[hatch] coordinates {(118,-1)(119,-1)(119,-3)(118,-3)};
\addplot[hatch] coordinates {(16,-3)(17,-3)(17,-5)(16,-5)};
\addplot[hatch] coordinates {(0,-5)(1,-5)(1,-7)(0,-7)};
\addplot[hatch] coordinates {(2,-5)(11,-5)(11,-7)(2,-7)};
\addplot[hatch] coordinates {(14,-5)(17,-5)(17,-7)(14,-7)};
% wind speed
\addplot[obs] coordinates {(0,5.03)(1,3.37)(2,5.69)(3,4.64)(4,3.87)(5,4.7)(6,3.7)(7,2.98)(8,1.77)(9,0.24)(10,1.16)(11,3.7)(12,0.83)(13,2.49)(14,2.21)(15,3.7)(16,2.43)(17,1.49)(18,2.49)(19,0.83)(20,1.88)(21,2.49)(22,2.04)(23,3.23)(24,2.54)(25,1.55)(26,0.28)(27,6.74)(28,4.53)(29,5.53)(30,6.25)(31,7.07)(32,7.07)(33,6.13)(34,6.8)(35,7.46)(36,6.58)(37,7.79)(38,6.8)(39,7.18)(40,5.97)(41,6.96)(42,8.73)(43,10.11)(44,7.4)(45,8.9)(46,9.95)(47,8.73)(48,9.84)(49,11.0)(50,10.11)(51,10.72)(52,10.85)(53,12.77)(54,12.43)(55,13.26)(56,10.83)(57,12.07)(58,11.94)(59,12.18)(60,11.0)(61,9.67)(62,11.96)(63,10.11)(64,10.17)(65,11.33)(66,10.89)(67,10.72)(68,11.38)(69,10.83)(70,11.14)(71,10.33)(72,10.19)(73,9.86)(74,10.17)(75,9.23)(76,8.29)(77,8.27)(78,7.52)(79,6.52)(80,4.31)(81,2.12)(82,2.65)(83,2.65)(84,1.71)(85,2.54)(86,5.25)(87,3.98)(88,3.15)(89,5.03)(90,2.16)(91,2.65)(92,2.1)(93,2.16)(94,3.32)(95,3.15)(96,2.71)(97,2.49)(98,4.2)(99,3.54)(100,1.55)(101,1.44)(102,3.87)(103,4.75)(104,2.32)(105,2.32)(106,2.82)(107,3.92)(108,2.98)(109,5.03)(110,3.48)(111,3.37)(112,3.65)(113,2.71)(114,3.32)(115,2.82)(116,1.99)(117,1.55)(118,0.66)(119,4.42)(120,3.09)};
\addplot[aa] coordinates {(0,3.32)(1,1.88)(2,1.55)(3,4.48)(4,5.2)(5,4.92)(6,4.59)(7,4.14)(8,4.53)(9,4.42)(10,3.98)(11,2.98)(12,2.38)(13,1.88)(14,2.1)(15,1.05)(16,0.88)(17,1.38)(18,1.44)(19,1.77)(20,2.38)(21,2.93)(22,4.2)(23,5.08)(24,5.36)};
\addplot[aa] coordinates {(24,5.36)(25,5.2)(26,5.58)(27,5.64)(28,5.25)(29,5.36)(30,5.03)(31,5.69)(32,5.42)(33,5.14)(34,5.03)(35,5.2)(36,4.75)(37,5.44)(38,5.42)(39,5.14)(40,5.2)(41,5.36)(42,5.58)(43,5.55)(44,5.66)(45,5.08)(46,4.92)(47,5.31)(48,5.47)};
\addplot[aa] coordinates {(48,4.7)(49,4.53)(50,4.7)(51,4.53)(52,5.53)(53,4.92)(54,5.36)(55,5.8)(56,5.77)(57,5.47)(58,4.97)(59,4.64)(60,4.4)(61,4.26)(62,4.48)(64,4.59)(65,4.86)(66,4.7)(67,4.92)(69,5.06)(70,4.92)(71,5.0)(72,5.14)};
\addplot[aa] coordinates {(72,5.47)(73,5.91)(74,6.1)(75,5.8)(76,5.42)(77,5.08)(78,5.14)(79,5.31)(80,5.44)(81,5.14)(82,4.89)(83,5.2)(84,4.53)(85,3.87)(86,3.76)(87,3.74)(88,3.54)(89,2.93)(90,2.82)(91,2.32)(92,1.77)(93,1.49)(94,1.19)(95,1.44)(96,1.77)};
\addplot[aa] coordinates {(96,5.53)(97,5.64)(98,5.8)(99,5.58)(100,5.47)(101,5.47)(102,5.69)(103,5.64)(104,5.58)(105,5.8)(106,5.47)(107,5.36)(108,5.47)(109,5.61)(110,5.61)(111,5.5)(112,5.36)(113,5.25)(114,5.14)(115,5.14)(116,5.2)(117,5.64)(118,6.02)(119,6.25)(120,6.19)};
\addplot[aa] coordinates {(120,5.4)(121,5.2)};
\addplot[as] coordinates {(0,0.88)(1,1.49)(2,0.17)(3,0.17)(4,0.66)(5,0.66)(6,0.94)(7,0.75)(8,0.33)(9,0.94)(10,0.61)(11,1.44)(12,3.04)(13,1.22)(14,0.22)(15,0.17)(16,0.61)(17,1.71)(18,1.44)(19,1.49)(20,1.71)(21,2.27)(22,2.76)(23,2.54)(24,2.1)};
\addplot[as] coordinates {(24,2.43)(25,3.76)(26,5.64)(27,8.57)(28,7.74)(29,7.46)(30,7.96)(31,6.91)(32,5.64)(33,5.97)(34,6.8)(35,7.68)(36,8.05)(37,8.18)(38,7.52)(39,7.52)(40,7.41)(41,6.85)(42,7.52)(43,7.41)(44,7.79)(45,7.57)(46,6.91)(47,6.13)(48,5.75)};
\addplot[as] coordinates {(48,7.85)(49,8.57)(50,8.29)(51,9.0)(52,9.4)(53,8.73)(54,7.68)(55,8.73)(56,8.12)(57,8.62)(58,7.3)(59,7.35)(60,7.72)(61,7.46)(62,7.02)(63,7.35)(64,7.63)(65,7.35)(66,7.02)(67,6.96)(68,7.35)(69,7.68)(70,7.46)(71,7.72)(72,7.96)};
\addplot[as] coordinates {(72,7.96)(73,8.01)(74,7.79)(75,7.96)(76,7.68)(77,8.2)(78,8.35)(79,8.12)(80,8.01)(81,7.83)(82,6.96)(83,6.13)(84,4.97)(85,4.03)(86,3.26)(87,2.82)(88,2.98)(89,2.93)(90,3.07)(91,3.21)(92,2.98)(93,2.6)(94,2.21)(95,1.99)(96,2.27)};
\addplot[as] coordinates {(96,5.69)(97,6.41)(98,6.85)(99,7.32)(100,6.52)(101,6.13)(102,5.99)(103,6.36)(104,6.21)(105,5.86)(106,5.47)(107,5.31)(108,5.2)(109,5.53)(110,5.95)(111,5.91)(112,5.25)(113,4.31)(114,3.92)(115,4.09)(116,4.92)(117,6.41)(118,6.74)(119,6.52)(120,6.13)};
\addplot[as] coordinates {(120,2.5)(121,2.2)};
\legend{OBS,AA25,AS05}
\end{axis}
% right-hand labels of the direction strips
\begin{axis}[scale only axis, width=438.4pt, height=116.8pt, at={(42.4pt,75.0pt)}, anchor=south west,
  xmin=0, xmax=120, ymin=-7, ymax=15.53, axis x line=none, axis y line*=right,
  ytick={-2,-4,-6}, yticklabels={OBS,AA25,AS05}, tick align=outside, major tick length=3.5pt,
  yticklabel style={inner xsep=1.2pt},
  axis line style={line width=0.8pt}, every tick/.style={black, line width=0.8pt}]
\end{axis}
\pgfresetboundingbox
\path (0pt,0pt) rectangle (513pt,471.6pt);
\end{tikzpicture}
\end{document}
